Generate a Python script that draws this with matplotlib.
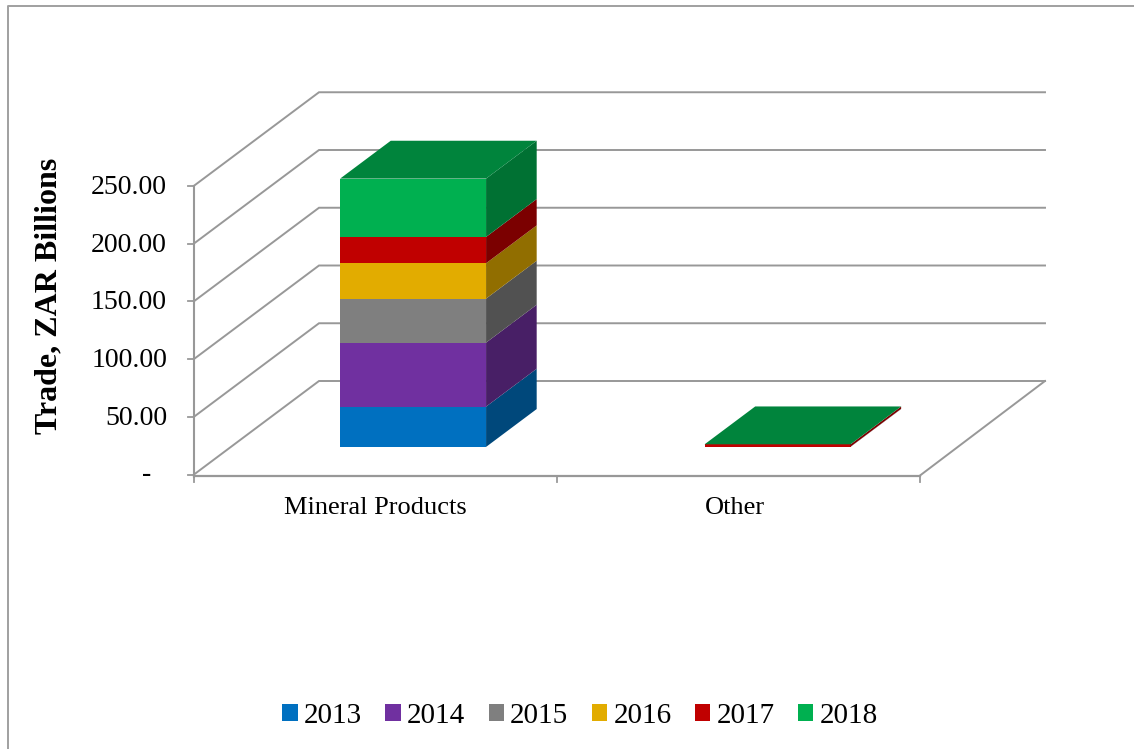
import matplotlib
matplotlib.use('Agg')
import matplotlib.pyplot as plt
from matplotlib.patches import Polygon, Patch

plt.rcParams['font.family'] = ['Liberation Serif', 'DejaVu Serif']

# data
categories = ['Mineral Products', 'Other']
years = ['2013', '2014', '2015', '2016', '2017', '2018']
mineral_values = [34.9, 55.4, 38.1, 30.6, 22.8, 50.5]
other_values = [0.05, 0.05, 0.05, 0.05, 2.0, 0.05]
colors = ['#0070C0', '#7030A0', '#7F7F7F', '#E2AC00', '#C00000', '#00B050']
yticks = [0, 50, 100, 150, 200, 250]
ytick_labels = ['-', '50.00', '100.00', '150.00', '200.00', '250.00']

# oblique projection of the 3D box, in pixels
x0, x1 = 194, 920
y0 = 474.5
depth_x, depth_y = 125, 93.5
y_scale = 1.155
cat_width = (x1 - x0) / len(categories)
bar_width = 0.402
bar_centers = [0.502, 1.506]
bar_front, bar_back = 0.295, 0.7
grid_color = '#989898'


def project(cat, val, d):
    # cat in category units, val in trade units, d from 0 (front) to 1 (back)
    return x0 + cat * cat_width + depth_x * d, y0 - val * y_scale - depth_y * d


def shade(color, k):
    rgb = matplotlib.colors.to_rgb(color)
    return tuple(c * k for c in rgb)


fig = plt.figure(figsize=(11.34, 7.49), dpi=100)
ax = fig.add_axes([0, 0, 1, 1])
ax.set_xlim(0, 1134)
ax.set_ylim(749, 0)
ax.axis('off')

# chart frame
ax.plot([8, 8, 1134], [749, 6, 6], color='#a0a0a0', lw=1.4)

# gridlines on back and left walls
for v, lab in zip(yticks, ytick_labels):
    fx, fy = project(0, v, 0)
    bx, by = project(0, v, 1)
    ex, ey = project(len(categories), v, 1)
    ax.plot([fx, bx, ex], [fy, by, ey], color=grid_color, lw=1.4, solid_joinstyle='miter')
    ax.plot([fx - 6, fx], [fy, fy], color=grid_color, lw=1.3)
    if lab == '-':
        ax.text(151, fy, lab, ha='right', va='center', fontsize=20)
    else:
        ax.text(167, fy + 1.5, lab, ha='right', va='center', fontsize=20)

# front axes and floor edge
ax.plot([x0, x0], [project(0, 250, 0)[1], y0 + 2], color=grid_color, lw=1.5)
fr = project(len(categories), 0, 0)
br = project(len(categories), 0, 1)
ax.plot([x0, fr[0]], [y0 + 1, y0 + 1], color=grid_color, lw=1.6)
ax.plot([fr[0], br[0]], [y0 + 1, br[1]], color=grid_color, lw=1.4)
for i in range(len(categories) + 1):
    px = project(i, 0, 0)[0]
    ax.plot([px, px], [y0 + 1, y0 + 7], color=grid_color, lw=1.3)

# stacked boxes
for center, values in zip(bar_centers, [mineral_values, other_values]):
    left = center - bar_width / 2
    right = center + bar_width / 2
    base = 0
    for val, col in zip(values, colors):
        top = base + val
        front = [project(left, base, bar_front), project(right, base, bar_front),
                 project(right, top, bar_front), project(left, top, bar_front)]
        side = [project(right, base, bar_front), project(right, base, bar_back),
                project(right, top, bar_back), project(right, top, bar_front)]
        ax.add_patch(Polygon(front, closed=True, fc=col, ec='none', zorder=3))
        ax.add_patch(Polygon(side, closed=True, fc=shade(col, 0.64), ec='none', zorder=3))
        base = top
    cap = [project(left, base, bar_front), project(right, base, bar_front),
           project(right, base, bar_back), project(left, base, bar_back)]
    ax.add_patch(Polygon(cap, closed=True, fc=shade(colors[-1], 0.75), ec='none', zorder=4))

# category labels
ax.text(375.5, 507.5, categories[0], ha='center', va='center', fontsize=19)
ax.text(735, 507.5, categories[1], ha='center', va='center', fontsize=19)

ax.text(49, 296, 'Trade, ZAR Billions', rotation=90, ha='center', va='center',
        fontsize=23, fontweight='bold')

handles = [Patch(fc=c, ec='none', label=y) for c, y in zip(colors, years)]
ax.legend(handles=handles, ncol=6, loc='center', bbox_to_anchor=(580, 716),
          bbox_transform=ax.transData, frameon=False, fontsize=21, borderpad=0,
          handlelength=0.52, handleheight=0.52, handletextpad=0.22, columnspacing=0.8)

fig.savefig('out.png', dpi=100)
